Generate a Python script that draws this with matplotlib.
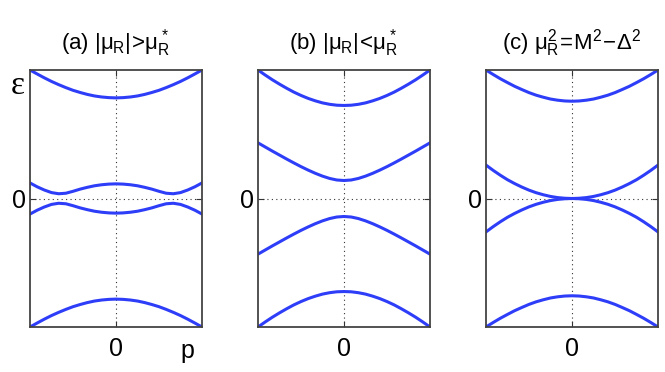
import numpy as np
import matplotlib
matplotlib.use("Agg")
import matplotlib.pyplot as plt

plt.rcParams['font.family'] = ['Liberation Sans', 'DejaVu Sans']
plt.rcParams['mathtext.fontset'] = 'custom'
plt.rcParams['mathtext.rm'] = 'Liberation Sans'
plt.rcParams['mathtext.it'] = 'Liberation Sans'
plt.rcParams['mathtext.bf'] = 'Liberation Sans:bold'

# momentum samples for half the zone, k = 0 .. pi (curves are even in k)
k_half = np.linspace(0, np.pi, 13)

# positive-energy bands (negative bands are mirror images)
a_outer = [0.783, 0.785, 0.790, 0.798, 0.810, 0.825, 0.842, 0.863, 0.886, 0.911, 0.939, 0.969, 1.000]
a_inner = [0.114, 0.112, 0.107, 0.099, 0.087, 0.073, 0.056, 0.041, 0.037, 0.046, 0.066, 0.091, 0.121]
b_outer = [0.724, 0.726, 0.733, 0.744, 0.760, 0.779, 0.802, 0.828, 0.858, 0.890, 0.924, 0.961, 1.000]
b_inner = [0.140, 0.144, 0.156, 0.174, 0.196, 0.221, 0.248, 0.277, 0.307, 0.338, 0.369, 0.401, 0.433]
c_outer = [0.757, 0.759, 0.765, 0.774, 0.788, 0.804, 0.824, 0.848, 0.873, 0.902, 0.932, 0.965, 1.000]
c_inner = [0.000, 0.002, 0.007, 0.016, 0.029, 0.045, 0.065, 0.089, 0.116, 0.146, 0.181, 0.219, 0.260]

titles = [r'(a) $|\mu_R|\!>\!\mu_R^*$', r'(b) $|\mu_R|\!<\!\mu_R^*$', r'(c) $\mu_R^2\!=\!M^2\!-\!\Delta^2$']
panels = [(a_outer, a_inner), (b_outer, b_inner), (c_outer, c_inner)]

line_color = '#2e3ef8'

fig = plt.figure(figsize=(6.65, 3.72), dpi=100)
lefts = [30/665, 258/665, 486/665]
width = 172/665
bottom = 1 - 327/372
height = 257/372

k_full = np.concatenate([-k_half[::-1], k_half[1:]])

for i, (left, (outer, inner)) in enumerate(zip(lefts, panels)):
    ax = fig.add_axes([left, bottom, width, height])
    for band in (outer, inner):
        b = np.asarray(band)
        full = np.concatenate([b[::-1], b[1:]])
        ax.plot(k_full, full, color=line_color, lw=2.2, solid_capstyle='round')
        ax.plot(k_full, -full, color=line_color, lw=2.2, solid_capstyle='round')
    ax.set_xlim(-np.pi, np.pi)
    ax.set_ylim(-1, 1)
    ax.set_xticks([0])
    ax.set_yticks([0])
    ax.set_xticklabels(['0'], fontsize=18)
    ax.set_yticklabels(['0'], fontsize=18)
    ax.tick_params(direction='in', length=4, width=0.8, top=True, right=True, color='#333333')
    ax.tick_params(axis='x', pad=7)
    ax.tick_params(axis='y', pad=3)
    ax.grid(True, linestyle=(0, (1, 3)), color='#333333', lw=0.8)
    for s in ax.spines.values():
        s.set_color('#444444')
        s.set_linewidth(1.3)
    ax.set_title(titles[i], fontsize=16, pad=15)
    if i == 0:
        ax.text(0.915, -0.045, 'p', transform=ax.transAxes, fontsize=18, ha='center', va='top')
        fig.text(18/665, 1 - 86/372, 'ε', fontsize=24, family='Liberation Serif', ha='center', va='center')

fig.savefig('out.png', dpi=100)
